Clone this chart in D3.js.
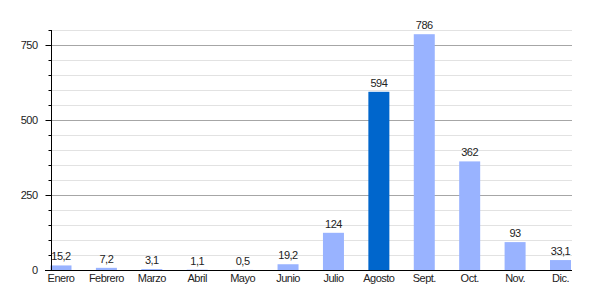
<!DOCTYPE html>
<html>
<head>
<meta charset="utf-8">
<script src="https://cdn.jsdelivr.net/npm/d3@7"></script>
<style>
  body { margin: 0; background: #fff; }
  text { font-family: "Liberation Sans", Arial, sans-serif; letter-spacing: -0.5px; }
</style>
</head>
<body>
<div id="chart"></div>
<script>
// Data
const months = ["Enero", "Febrero", "Marzo", "Abril", "Mayo", "Junio", "Julio", "Agosto", "Sept.", "Oct.", "Nov.", "Dic."];
const values = [15.2, 7.2, 3.1, 1.1, 0.5, 19.2, 124, 594, 786, 362, 93, 33.1];
const valueLabels = ["15,2", "7,2", "3,1", "1,1", "0,5", "19,2", "124", "594", "786", "362", "93", "33,1"];
const highlight = "Agosto";
const majorTicks = [0, 250, 500, 750];
const minorTicks = d3.range(0, 801, 50);

const width = 600, height = 300;
const plotLeft = 51, plotRight = 572, plotTop = 30, plotBottom = 270;

const svg = d3.select("#chart").append("svg")
    .attr("width", width)
    .attr("height", height);

const x = d3.scalePoint()
    .domain(months)
    .range([61, 560.5]);

const y = d3.scaleLinear()
    .domain([0, 800])
    .range([plotBottom, plotTop]);

const barW = 21;

// minor gridlines
svg.append("g").selectAll("line")
    .data(minorTicks.filter(d => d > 0 && !majorTicks.includes(d)))
    .enter().append("line")
    .attr("x1", plotLeft).attr("x2", plotRight)
    .attr("y1", d => y(d) + 0.5).attr("y2", d => y(d) + 0.5)
    .attr("stroke", "#e2e2e2");

// major gridlines
svg.append("g").selectAll("line")
    .data(majorTicks.filter(d => d > 0))
    .enter().append("line")
    .attr("x1", plotLeft).attr("x2", plotRight)
    .attr("y1", d => y(d) + 0.5).attr("y2", d => y(d) + 0.5)
    .attr("stroke", "#a6a6a6");

// bars
svg.append("g").selectAll("rect")
    .data(values)
    .enter().append("rect")
    .attr("x", (d, i) => x(months[i]) - barW / 2)
    .attr("y", d => y(d))
    .attr("width", barW)
    .attr("height", d => plotBottom - y(d))
    .attr("fill", (d, i) => months[i] === highlight ? "#0066cc" : "#99b3ff");

// value labels
svg.append("g").selectAll("text")
    .data(values)
    .enter().append("text")
    .attr("x", (d, i) => x(months[i]))
    .attr("y", d => y(d) - 5)
    .attr("text-anchor", "middle")
    .attr("font-size", 11)
    .attr("fill", "#222")
    .text((d, i) => valueLabels[i]);

// y axis (minor ticks)
svg.append("g")
    .attr("transform", `translate(${plotLeft + 0.5},0)`)
    .call(d3.axisLeft(y).tickValues(minorTicks).tickSize(3).tickFormat(""))
    .call(g => g.select(".domain").remove());

// y axis (major)
svg.append("g")
    .attr("transform", `translate(${plotLeft + 0.5},0)`)
    .call(d3.axisLeft(y).tickValues(majorTicks).tickSize(6).tickPadding(8).tickSizeOuter(0))
    .call(g => g.select(".domain").attr("d", `M0,${plotTop}V${plotBottom}`))
    .call(g => g.selectAll("text").attr("font-size", 11).attr("fill", "#222").attr("font-family", "Liberation Sans, Arial, sans-serif"));

// baseline
svg.append("line")
    .attr("x1", 45).attr("x2", plotRight)
    .attr("y1", plotBottom + 0.5).attr("y2", plotBottom + 0.5)
    .attr("stroke", "#000");

// x labels
svg.append("g").selectAll("text")
    .data(months)
    .enter().append("text")
    .attr("x", d => x(d))
    .attr("y", 282)
    .attr("text-anchor", "middle")
    .attr("font-size", 11)
    .attr("fill", "#222")
    .text(d => d);
</script>
</body>
</html>
